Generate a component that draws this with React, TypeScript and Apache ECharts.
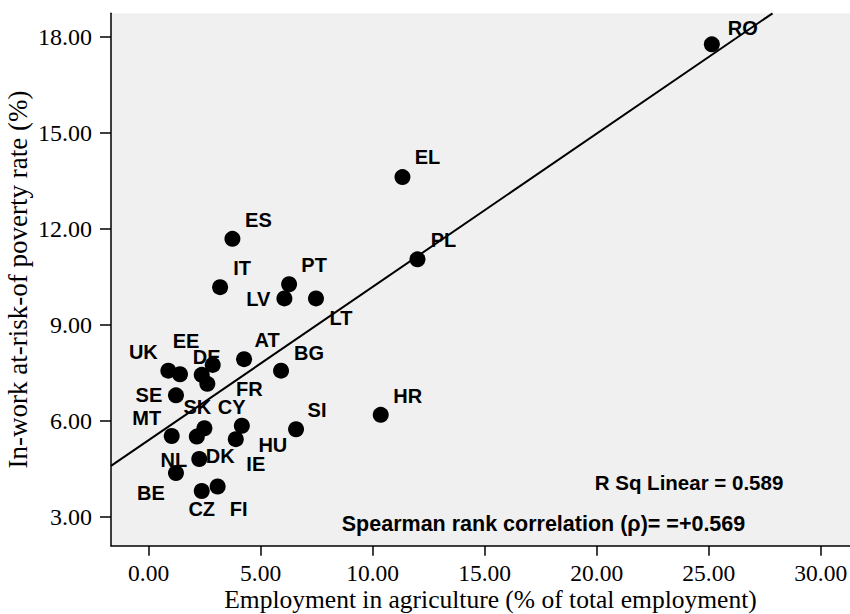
import React, { useEffect, useRef } from "react";
import * as echarts from "echarts";

// Country codes
const countries = [
  "RO", "EL", "PL", "ES", "IT", "PT", "LV", "LT", "HR", "AT", "BG", "UK", "EE", "DE",
  "CY", "FR", "SE", "MT", "SK", "NL", "HU", "IE", "SI", "DK", "BE", "CZ", "FI",
];
// Employment in agriculture (% of total employment)
const agriEmployment = [
  25.14, 11.33, 12.0, 3.74, 3.19, 6.27, 6.06, 7.47, 10.36, 4.26, 5.91, 0.88, 1.4, 2.86,
  2.37, 2.62, 1.22, 1.03, 2.49, 2.15, 4.16, 3.89, 6.58, 2.26, 1.22, 2.37, 3.08,
];
// In-work at-risk-of poverty rate (%)
const inWorkPoverty = [
  17.76, 13.61, 11.04, 11.68, 10.17, 10.26, 9.82, 9.82, 6.18, 7.92, 7.56, 7.56, 7.45, 7.74,
  7.43, 7.15, 6.79, 5.52, 5.76, 5.5, 5.84, 5.42, 5.73, 4.8, 4.36, 3.8, 3.94,
];

const xTickValues = [0, 5, 10, 15, 20, 25, 30];
const yTickValues = [3, 6, 9, 12, 15, 18];

// Linear fit
const fitIntercept = 5.39;
const fitSlope = 0.479;

const xTitle = "Employment in agriculture (% of total employment)";
const yTitle = "In-work at-risk-of poverty rate (%)";
const rSquaredText = "R Sq Linear = 0.589";
const spearmanText = "Spearman rank correlation (\u03c1)= =+0.569";

// Label placement relative to each marker (pixels)
const labelOffsets: Record<string, [number, number]> = {
  RO: [31, -16], EL: [25, -20], PL: [26, -19], ES: [26, -19], IT: [22, -19],
  PT: [25, -19], LV: [-26, 1], LT: [25, 20], HR: [27, -19], AT: [23, -19],
  BG: [28, -18], UK: [-25, -19], EE: [6, -33], DE: [-6, -8], CY: [30, 32],
  FR: [42, 5], SE: [-27, 0], MT: [-25, -18], SK: [-7, -21], NL: [-23, 23],
  HU: [31, 19], IE: [20, 25], SI: [21, -19], DK: [21, -3], BE: [-25, 20],
  CZ: [0, 18], FI: [21, 22],
};

export default function App() {
  const ref = useRef<HTMLDivElement>(null);
  useEffect(() => {
    if (!ref.current) return;
    const chart = echarts.init(ref.current, null, { renderer: "svg" });
    const xMin = -1.68;
    const xMax = 32.2;
    const yMin = 2.09;
    const yMax = 18.73;
    const xEnd = (yMax - fitIntercept) / fitSlope;

    const serif = "Liberation Serif";
    const sans = "Liberation Sans";

    const points = countries.map((c, i) => ({
      name: c,
      value: [agriEmployment[i], inWorkPoverty[i]],
      label: { offset: labelOffsets[c] || [20, -18] },
    }));

    chart.setOption({
      animation: false,
      grid: {
        left: 111,
        right: -20,
        top: 13.3,
        bottom: 68.3,
        show: true,
        backgroundColor: "#f0f0f0",
        borderWidth: 0,
        containLabel: false,
        outerBoundsMode: "none",
      },
      xAxis: {
        type: "value",
        min: xMin,
        max: xMax,
        name: xTitle,
        nameLocation: "middle",
        nameGap: 41,
        nameMoveOverlap: false,
        nameTextStyle: { fontFamily: serif, fontSize: 25.5, color: "#000" },
        axisLine: { show: true, onZero: false, lineStyle: { color: "#000", width: 1.5 } },
        axisTick: {
          show: true,
          customValues: xTickValues,
          length: 10,
          lineStyle: { color: "#000", width: 1.5 },
        },
        axisLabel: {
          customValues: xTickValues,
          formatter: (v: number) => v.toFixed(2),
          fontFamily: serif,
          fontSize: 23.5,
          color: "#000",
          margin: 15,
        },
        splitLine: { show: false },
      },
      yAxis: {
        type: "value",
        min: yMin,
        max: yMax,
        name: yTitle,
        nameLocation: "middle",
        nameGap: 80,
        nameMoveOverlap: false,
        nameTextStyle: { fontFamily: serif, fontSize: 27, color: "#000" },
        axisLine: { show: true, onZero: false, lineStyle: { color: "#000", width: 1.5 } },
        axisTick: {
          show: true,
          customValues: yTickValues,
          length: 11,
          lineStyle: { color: "#000", width: 1.5 },
        },
        axisLabel: {
          customValues: yTickValues,
          formatter: (v: number) => v.toFixed(2),
          fontFamily: serif,
          fontSize: 24,
          color: "#000",
          margin: 19,
        },
        splitLine: { show: false },
      },
      series: [
        {
          type: "scatter",
          data: points,
          symbol: "circle",
          symbolSize: 16,
          itemStyle: { color: "#000", opacity: 1 },
          z: 2,
          label: {
            show: true,
            position: "inside",
            align: "center",
            verticalAlign: "middle",
            formatter: "{b}",
            color: "#000",
            fontFamily: sans,
            fontWeight: "bold",
            fontSize: 20,
          },
        },
        {
          type: "line",
          data: [
            [xMin, fitIntercept + fitSlope * xMin],
            [xEnd, yMax],
          ],
          symbol: "none",
          silent: true,
          z: 5,
          lineStyle: { color: "#000", width: 2 },
        },
      ],
      graphic: [
        {
          type: "text",
          x: 689,
          y: 482,
          style: {
            text: rSquaredText,
            fontFamily: sans,
            fontWeight: "bold",
            fontSize: 20.5,
            fill: "#000",
            align: "center",
            verticalAlign: "middle",
          },
        },
        {
          type: "text",
          x: 543.5,
          y: 524,
          style: {
            text: spearmanText,
            fontFamily: sans,
            fontWeight: "bold",
            fontSize: 21.5,
            fill: "#000",
            align: "center",
            verticalAlign: "middle",
          },
        },
      ],
    });
    return () => chart.dispose();
  }, []);
  return (
    <div
      ref={ref}
      style={{ position: "absolute", left: 0, top: 0, width: 850, height: 614 }}
    />
  );
}
